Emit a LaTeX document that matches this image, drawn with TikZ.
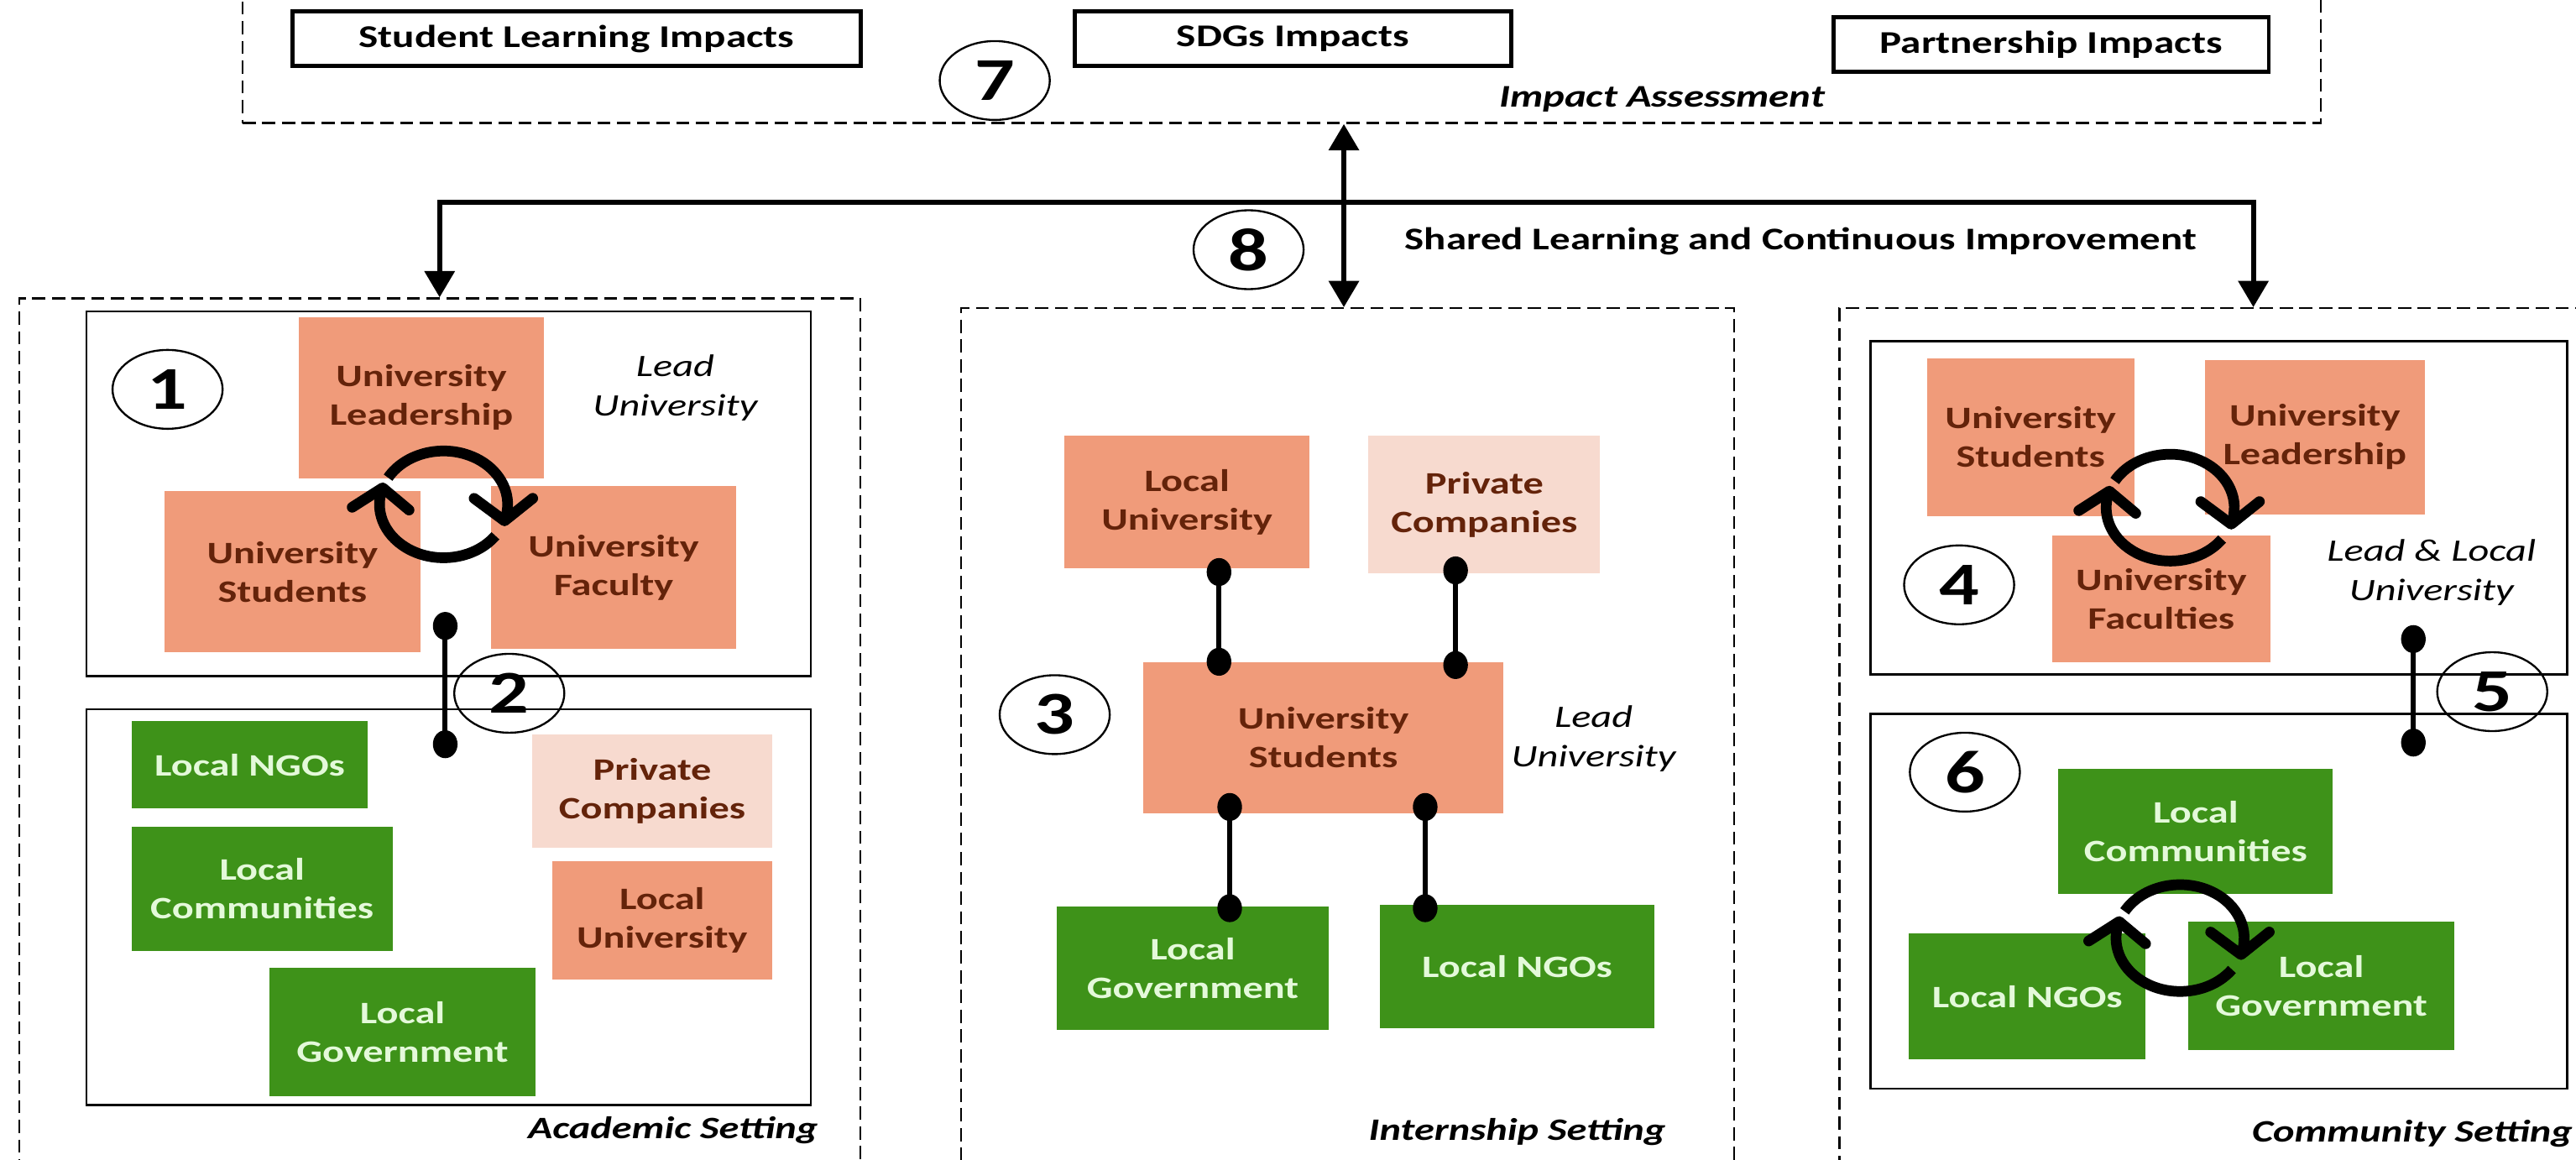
\documentclass[tikz,border=0pt]{standalone}
\usepackage{fontspec}
\setmainfont{Carlito}[FakeStretch=1.3]
\usetikzlibrary{arrows.meta,shapes.geometric,calc}
\definecolor{salmon}{HTML}{F09B7A}
\definecolor{pinkL}{HTML}{F7DACF}
\definecolor{greenB}{HTML}{3E9219}
\definecolor{brownT}{HTML}{64230A}
\definecolor{greenT}{HTML}{E4F9DA}
\begin{document}
\begin{tikzpicture}[x=1pt,y=1pt,
  bx/.style={inner sep=0pt, align=center, font=\bfseries\fontsize{19}{23.5}\selectfont},
  sal/.style={bx, fill=salmon, text=brownT},
  pcb/.style={bx, fill=pinkL, text=brownT},
  grn/.style={bx, fill=greenB, text=greenT},
  topbox/.style={draw, line width=2.5pt, inner sep=0pt, font=\bfseries\fontsize{19.3}{22}\selectfont},
  dashbox/.style={draw, line width=1.2pt, dash pattern=on 8pt off 4pt, inner sep=0pt, anchor=north west},
  inbox/.style={draw, line width=1.3pt, inner sep=0pt, anchor=north west},
  numc/.style={ellipse, draw, line width=1.2pt, minimum width=67pt, minimum height=48pt, inner sep=0pt, font=\bfseries\fontsize{37}{37}\selectfont},
  lbl/.style={inner sep=0pt, font=\bfseries\itshape\fontsize{19}{22}\selectfont},
  lead/.style={inner sep=0pt, align=center, font=\itshape\fontsize{19}{24}\selectfont},
  flow/.style={line width=3pt, -{Triangle[width=18pt,length=16pt]}},
  cyc/.style={line width=6.5pt},
  chev/.style={line width=6.5pt, line cap=round, line join=round},
  conn/.style={line width=3pt},
  dot/.style={ellipse, fill=black, minimum width=15pt, minimum height=17pt, inner sep=0pt}
]
\useasboundingbox (0,0) rectangle (1568,-705.6);
\clip (0,0) rectangle (1568,-705.6);

% dashed setting frames
\node[dashbox, anchor=south west, minimum width=1265pt, minimum height=110pt] (impact) at (147,-75.5) {};
\node[dashbox, minimum width=512pt, minimum height=540pt] (acad) at (11,-181) {};
\node[dashbox, minimum width=470.5pt, minimum height=540pt] (intern) at (584.5,-187) {};
\node[dashbox, minimum width=504pt, minimum height=540pt] (comm) at (1119,-187) {};

% inner solid frames
\node[inbox, minimum width=441pt, minimum height=222pt] (aUp) at (52,-189) {};
\node[inbox, minimum width=441pt, minimum height=241pt] (aLow) at (52,-431) {};
\node[inbox, minimum width=424pt, minimum height=203pt] (cUp) at (1138,-207) {};
\node[inbox, minimum width=424pt, minimum height=228pt] (cLow) at (1138,-434) {};

% top impact boxes
\node[topbox, minimum width=346pt, minimum height=33pt] (tSLI) at (351,-23.5) {Student Learning Impacts};
\node[topbox, minimum width=266pt, minimum height=33pt] (tSDG) at (787,-23.5) {SDGs Impacts};
\node[topbox, minimum width=265pt, minimum height=33.5pt] (tPI) at (1248.5,-27) {Partnership Impacts};
\node[lbl, anchor=east, font=\bfseries\itshape\fontsize{19.2}{22}\selectfont] (labIA) at (1111,-60.5) {Impact Assessment};

% academic setting
\node[sal, minimum width=149pt, minimum height=98pt] (aLead) at (256.5,-242) {University\\Leadership};
\node[sal, minimum width=156pt, minimum height=98pt] (aStu) at (178,-348) {University\\Students};
\node[sal, minimum width=149pt, minimum height=99pt] (aFac) at (373.5,-345.5) {University\\Faculty};
\node[lead] (aLeadU) at (411,-236) {Lead\\University};
\node[grn, minimum width=144pt, minimum height=53pt] (aNGO) at (152,-465.5) {Local NGOs};
\node[pcb, minimum width=146pt, minimum height=69pt] (aPC) at (397,-481.5) {Private\\Companies};
\node[grn, minimum width=159pt, minimum height=76pt] (aCom) at (159.5,-541) {Local\\Communities};
\node[sal, minimum width=134pt, minimum height=72pt] (aLU) at (403,-560) {Local\\University};
\node[grn, minimum width=162pt, minimum height=78pt] (aGov) at (245,-628) {Local\\Government};
\node[lbl, anchor=east] (labA) at (498,-688) {Academic Setting};

% internship setting
\node[sal, minimum width=149pt, minimum height=81pt] (iLU) at (722.5,-305.5) {Local\\University};
\node[pcb, minimum width=141pt, minimum height=84pt] (iPC) at (903.5,-307) {Private\\Companies};
\node[sal, minimum width=219pt, minimum height=92pt] (iUS) at (805.5,-449) {University\\Students};
\node[lead] (iLeadU) at (970,-449.5) {Lead\\University};
\node[grn, minimum width=166pt, minimum height=75pt] (iGov) at (726,-589.5) {Local\\Government};
\node[grn, minimum width=167pt, minimum height=75pt] (iNGO) at (923.5,-588.5) {Local NGOs};
\node[lbl, anchor=east] (labI) at (1014,-689) {Internship Setting};

% community setting
\node[sal, minimum width=126pt, minimum height=96pt] (cStu) at (1236,-266) {University\\Students};
\node[sal, minimum width=134pt, minimum height=94pt] (cLead) at (1409,-266) {University\\Leadership};
\node[sal, minimum width=133pt, minimum height=77pt] (cFac) at (1315.5,-364.5) {University\\Faculties};
\node[lead] (cLeadU) at (1480,-348.5) {Lead \& Local\\University};
\node[grn, minimum width=167pt, minimum height=76pt] (cCom) at (1336.5,-506) {Local\\Communities};
\node[grn, minimum width=144pt, minimum height=77pt] (cNGO) at (1234,-606.5) {Local NGOs};
\node[grn, minimum width=162pt, minimum height=78pt] (cGov) at (1413,-600) {Local\\Government};
\node[lbl, anchor=east] (labC) at (1566,-690) {Community Setting};

% cycles
\coordinate (aC) at (270,-307);
\coordinate (cC1) at (1321,-309);
\coordinate (cC2) at (1327,-571);
\foreach \c in {aC,cC1,cC2}{
  \coordinate (\c T1) at ($(\c)+(-18:39pt and 32.5pt)$);
  \coordinate (\c T2) at ($(\c)+(-198:39pt and 32.5pt)$);
  \draw[cyc] ($(\c)+(150:39pt and 32.5pt)$) arc[start angle=150, end angle=-18, x radius=39pt, y radius=32.5pt];
  \draw[chev] ($(\c T1)+(143.5:23pt)$) -- (\c T1) -- ($(\c T1)+(38.6:22pt)$);
  \draw[cyc] ($(\c)+(-36:39pt and 32.5pt)$) arc[start angle=-36, end angle=-198, x radius=39pt, y radius=32.5pt];
  \draw[chev] ($(\c T2)+(-147.5:22pt)$) -- (\c T2) -- ($(\c T2)+(-40:21pt)$);
}

% dumbbell connectors
\coordinate (aD1) at (271,-381);
\coordinate (aD2) at (271,-453);
\draw[conn] (aD1) -- (aD2) node[dot,pos=0]{} node[dot,pos=1]{};
\coordinate (cD1) at (1469,-389);
\coordinate (cD2) at (1469,-452);
\draw[conn] (cD1) -- (cD2) node[dot,pos=0]{} node[dot,pos=1]{};
\draw[conn] ([xshift=19.5pt,yshift=-2pt]iLU.south) -- ([xshift=19.5pt]iLU.south |- iUS.north) node[dot,pos=0]{} node[dot,pos=1]{};
\draw[conn] ([xshift=-17.5pt,yshift=2pt]iPC.south) -- ([xshift=-17.5pt,yshift=-2pt]iPC.south |- iUS.north) node[dot,pos=0]{} node[dot,pos=1]{};
\draw[conn] ([xshift=-57pt,yshift=4pt]iUS.south) -- ([xshift=-57pt,yshift=-1pt]iUS.south |- iGov.north) node[dot,pos=0]{} node[dot,pos=1]{};
\draw[conn] ([xshift=62pt,yshift=4pt]iUS.south) -- ([xshift=62pt,yshift=-2pt]iUS.south |- iNGO.north) node[dot,pos=0]{} node[dot,pos=1]{};

% shared learning flows
\coordinate (hub) at (818,-123);
\draw[flow] (hub) -| (acad.north);
\draw[flow] (hub) -| (comm.north);
\draw[line width=3pt, {Triangle[width=18pt,length=16pt]}-{Triangle[width=18pt,length=16pt]}] (hub |- impact.south) -- (hub |- intern.north);
\node[anchor=west, inner sep=0pt, font=\bfseries\fontsize{19.2}{22}\selectfont] (labSL) at (855,-147) {Shared Learning and Continuous Improvement};

% numbered circles
\node[numc] (n7) at (605.5,-49) {7};
\node[numc] (n8) at (760,-152) {8};
\node[numc] (n1) at (102,-237) {1};
\node[numc] (n2) at (310,-422) {2};
\node[numc] (n3) at (642,-435) {3};
\node[numc] (n4) at (1192.5,-356) {4};
\node[numc] (n5) at (1517,-421) {5};
\node[numc] (n6) at (1196,-470) {6};
\end{tikzpicture}
\end{document}
